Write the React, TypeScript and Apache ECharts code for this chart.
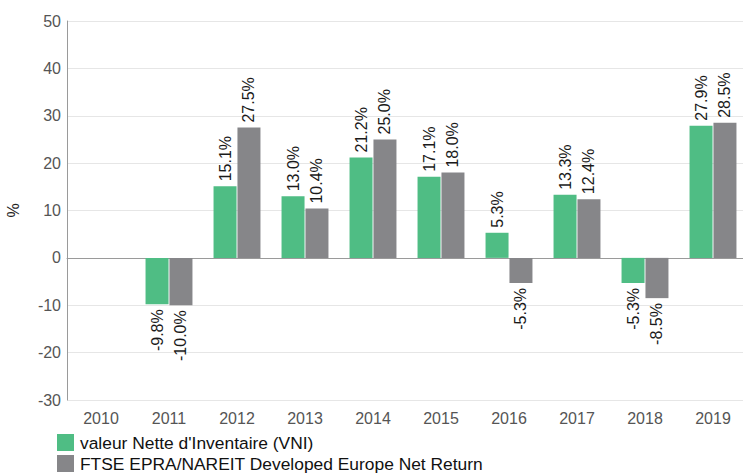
import React, { useEffect, useRef } from "react";
import * as echarts from "echarts";

const years = ["2010", "2011", "2012", "2013", "2014", "2015", "2016", "2017", "2018", "2019"];
const vni: (number | null)[] = [null, -9.8, 15.1, 13.0, 21.2, 17.1, 5.3, 13.3, -5.3, 27.9];
const benchmark: (number | null)[] = [null, -10.0, 27.5, 10.4, 25.0, 18.0, -5.3, 12.4, -8.5, 28.5];
const seriesNames = ["valeur Nette d'Inventaire (VNI)", "FTSE EPRA/NAREIT Developed Europe Net Return"];
const colors = ["#4fbd84", "#868689"];

const FONT = "Arial, 'Liberation Sans', sans-serif";

function toData(values: (number | null)[]) {
  return values.map((v) => {
    if (v === null) return null;
    const neg = v < 0;
    return {
      value: v,
      label: {
        position: neg ? "bottom" : "top",
        align: neg ? "right" : "left",
      },
    };
  });
}

export default function App() {
  const ref = useRef<HTMLDivElement>(null);
  useEffect(() => {
    if (!ref.current) return;
    const chart = echarts.init(ref.current, undefined, { renderer: "svg" });
    const labelBase = {
      show: true,
      rotate: 90,
      verticalAlign: "middle",
      distance: 5,
      fontSize: 16,
      fontFamily: FONT,
      color: "#1a1a1a",
      formatter: (p: any) => `${Number(p.value).toFixed(1)}%`,
    };
    chart.setOption({
      animation: false,
      textStyle: { fontFamily: FONT },
      grid: {
        left: 67,
        width: 680,
        top: 21,
        bottom: 76,
        containLabel: false,
        outerBoundsMode: "none",
      },
      legend: {
        orient: "vertical",
        left: 57,
        top: 434,
        itemWidth: 17,
        itemHeight: 17,
        itemGap: 4,
        icon: "rect",
        padding: 0,
        textStyle: { fontSize: 17.4, color: "#111", fontFamily: FONT, padding: [0, 0, 0, 1] },
        data: seriesNames,
      },
      xAxis: {
        type: "category",
        data: years,
        axisLine: { show: true, lineStyle: { color: "#9a9a9a" } },
        axisTick: { show: false },
        axisLabel: { fontSize: 16, color: "#555", fontFamily: FONT, margin: 10 },
        splitLine: { show: false },
      },
      yAxis: {
        type: "value",
        min: -30,
        max: 50,
        interval: 10,
        name: "%",
        nameLocation: "middle",
        nameGap: 46,
        nameRotate: 90,
        nameTextStyle: { fontSize: 16, color: "#222", fontFamily: FONT },
        axisLine: { show: true, lineStyle: { color: "#9a9a9a" } },
        axisTick: { show: false },
        axisLabel: { fontSize: 16, color: "#555", fontFamily: FONT, margin: 6 },
        splitLine: { show: true, lineStyle: { color: "#e6e6e6" } },
      },
      series: [
        {
          name: seriesNames[0],
          type: "bar",
          data: toData(vni),
          barWidth: 23,
          barGap: "4%",
          itemStyle: { color: colors[0] },
          label: labelBase,
        },
        {
          name: seriesNames[1],
          type: "bar",
          data: toData(benchmark),
          barWidth: 23,
          itemStyle: { color: colors[1] },
          label: labelBase,
        },
      ],
    });
    return () => chart.dispose();
  }, []);
  return <div ref={ref} style={{ width: 743, height: 476, position: "absolute", left: 0, top: 0 }} />;
}
